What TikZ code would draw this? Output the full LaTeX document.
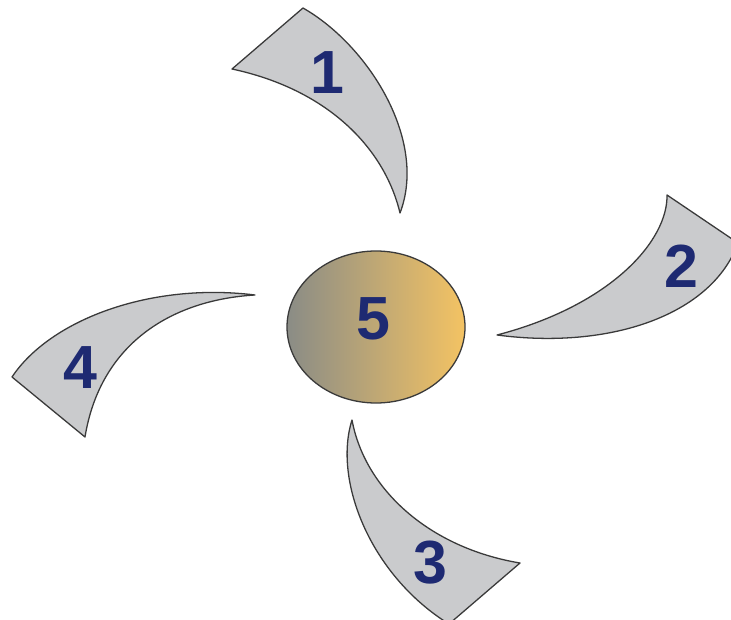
\documentclass[tikz,border=0pt]{standalone}
\usepackage{fontspec}
\setmainfont{Liberation Sans}
\usepackage{tikz}

\definecolor{bladegrey}{HTML}{CACBCD}
\definecolor{edgegrey}{HTML}{3A3A3A}
\definecolor{numblue}{HTML}{1E2A72}
\definecolor{hubgrey}{HTML}{8A8C86}
\definecolor{hubgold}{HTML}{F4C363}

\begin{document}
\begin{tikzpicture}[x=0.03cm,y=-0.03cm,line width=1.1pt,
    blade/.style={fill=bladegrey,draw=edgegrey,line join=round},
    num/.style={text=numblue,font=\bfseries\fontsize{52}{56}\selectfont,inner sep=0pt}]
  \clip (0,0) rectangle (731,620);

  % blade 1
  \coordinate (A1) at (303,8);
  \coordinate (L1) at (232,69);
  \coordinate (T1) at (400,213);
  \draw[blade] (L1) -- (A1) .. controls (368,45) and (428,140) .. (T1)
    .. controls (385,150) and (330,90) .. (L1) -- cycle;

  % blade 2
  \coordinate (A2) at (667,195);
  \coordinate (R2) at (738,243);
  \coordinate (T2) at (497,335);
  \draw[blade] (A2) -- (R2) .. controls (712,315) and (610,350) .. (T2)
    .. controls (612,305) and (668,240) .. (A2) -- cycle;

  % blade 3
  \coordinate (T3) at (352,420);
  \coordinate (R3) at (520,563);
  \coordinate (B3) at (449,624);
  \draw[blade] (T3) .. controls (333,480) and (370,575) .. (B3)
    -- (R3) .. controls (430,548) and (365,490) .. (T3) -- cycle;

  % blade 4
  \coordinate (L4) at (12,377);
  \coordinate (R4) at (255,295);
  \coordinate (B4) at (85,437);
  \draw[blade] (B4) -- (L4) .. controls (50,320) and (150,282) .. (R4)
    .. controls (170,300) and (100,345) .. (B4) -- cycle;

  % hub
  \draw[edgegrey,shading=axis,left color=hubgrey,right color=hubgold]
    (376,327) ellipse [x radius=89,y radius=76];

  \node[num] (n1) at (327,73) {1};
  \node[num] (n2) at (681,266) {2};
  \node[num] (n3) at (430,563) {3};
  \node[num] (n4) at (80,368) {4};
  \node[num] (n5) at (373,319) {5};
\end{tikzpicture}
\end{document}
